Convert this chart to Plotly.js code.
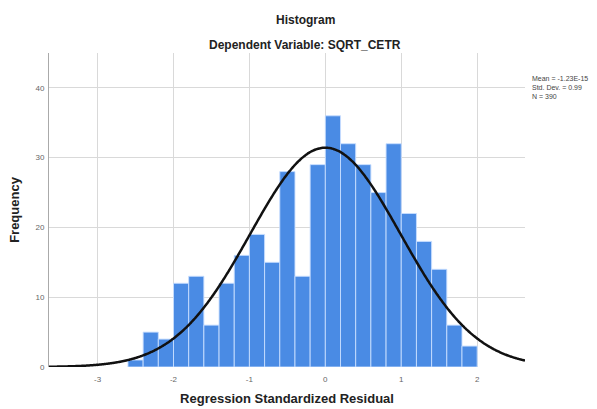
<!DOCTYPE html>
<html>
<head>
<meta charset="utf-8">
<script src="https://cdn.plot.ly/plotly-3.0.1.min.js"></script>
<style>html,body{margin:0;padding:0;background:#fff;}#chart{width:597px;height:409px;}</style>
</head>
<body>
<div id="chart"></div>
<script>
// Bin centres (bin width 0.2) and frequencies
const binCenters = [-2.5, -2.3, -2.1, -1.9, -1.7, -1.5, -1.3, -1.1, -0.9, -0.7, -0.5, -0.3, -0.1,
                    0.1, 0.3, 0.5, 0.7, 0.9, 1.1, 1.3, 1.5, 1.7, 1.9];
const frequencies = [1, 5, 4, 12, 13, 6, 12, 16, 19, 15, 28, 13, 29,
                     36, 32, 29, 25, 32, 22, 18, 14, 6, 3];
const binWidth = 0.2;
// Summary statistics shown at the right
const statMean = -1.23e-15;
const statSD = 0.99;
const statN = 390;
const xTicks = [-3, -2, -1, 0, 1, 2];
const yTicks = [0, 10, 20, 30, 40];

// Fitted normal curve
const curveX = [], curveY = [];
for (let i = 0; i <= 400; i++) {
  const x = -3.64 + i * (2.63 + 3.64) / 400;
  curveX.push(x);
  const z = (x - statMean) / statSD;
  curveY.push(statN * binWidth / (statSD * Math.sqrt(2 * Math.PI)) * Math.exp(-0.5 * z * z));
}

const data = [
  {
    type: 'bar', x: binCenters, y: frequencies, width: binWidth,
    marker: {color: '#4a8be4', line: {color: 'rgba(200,222,255,0.9)', width: 1}},
    hoverinfo: 'skip'
  },
  {
    type: 'scatter', mode: 'lines', x: curveX, y: curveY,
    line: {color: '#111', width: 2.5, shape: 'spline'}, hoverinfo: 'skip'
  }
];

const font = 'Liberation Sans, Arial, sans-serif';
const layout = {
  width: 597, height: 409,
  margin: {l: 49, r: 72, t: 53, b: 42},
  paper_bgcolor: '#fff', plot_bgcolor: '#fff',
  showlegend: false,
  bargap: 0,
  font: {family: font},
  xaxis: {
    range: [-3.64, 2.63], tickvals: xTicks, ticktext: xTicks.map(String),
    showgrid: true, gridcolor: '#d9d9d9', gridwidth: 1, zeroline: false,
    showline: false, ticks: '', ticklabelstandoff: 6, tickfont: {size: 8, color: '#666'},
    title: {text: 'Regression Standardized Residual', font: {size: 13, color: '#222', family: font, weight: 'bold'}, standoff: 10}
  },
  yaxis: {
    range: [0, 45], tickvals: yTicks, ticktext: yTicks.map(String),
    showgrid: true, gridcolor: '#d9d9d9', gridwidth: 1, zeroline: false,
    showline: true, linecolor: '#aaa', linewidth: 1, ticks: '', ticklabelstandoff: 2, tickfont: {size: 8, color: '#666'},
    title: {text: 'Frequency', font: {size: 13, color: '#222', family: font, weight: 'bold'}, standoff: 12}
  },
  annotations: [
    {text: '<b>Histogram</b>', xref: 'paper', yref: 'paper', x: 0.538, y: 1.105, xanchor: 'center', yanchor: 'middle',
     showarrow: false, font: {size: 12, color: '#222', family: font}},
    {text: '<b>Dependent Variable: SQRT_CETR</b>', xref: 'paper', yref: 'paper', x: 0.538, y: 1.024, xanchor: 'center', yanchor: 'middle',
     showarrow: false, font: {size: 12, color: '#222', family: font}},
    {text: 'Mean = ' + statMean.toExponential(2).replace('e', 'E') + '<br>Std. Dev. = ' + statSD.toFixed(2) + '<br>N = ' + statN,
     xref: 'paper', yref: 'paper', x: 1.01, y: 0.89, xanchor: 'left', yanchor: 'middle', align: 'left',
     showarrow: false, font: {size: 7, color: '#444', family: font}}
  ]
};

Plotly.newPlot('chart', data, layout, {staticPlot: true, displayModeBar: false});
</script>
</body>
</html>
